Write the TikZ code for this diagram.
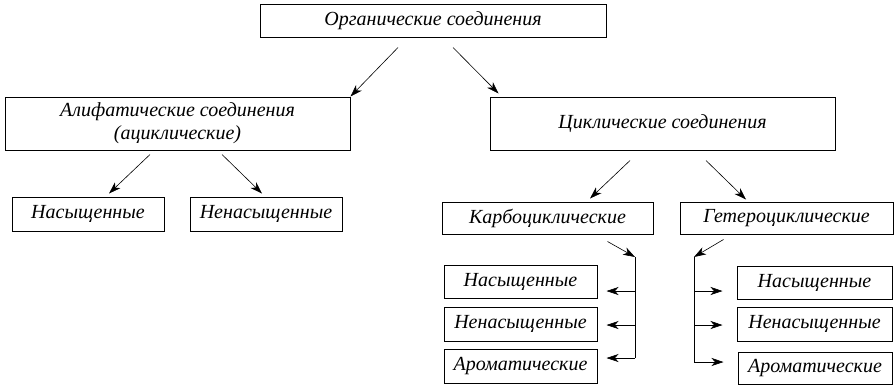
\documentclass[tikz,border=0pt]{standalone}
\usepackage{fontspec}
\setmainfont{Liberation Serif}
\usetikzlibrary{arrows.meta,calc}
\tikzset{
  box/.style={draw, line width=1pt, inner sep=0pt, align=center, font=\itshape\fontsize{20}{23}\selectfont},
  sbox/.style={box},
  arr/.style={line width=0.6pt, -{Stealth[length=12pt,width=8pt,inset=3.5pt]}},
  ln/.style={line width=0.9pt}
}
\begin{document}
\begin{tikzpicture}[x=1pt,y=-1pt]
\useasboundingbox (0,0) rectangle (896,389);
\node[box, minimum width=346pt, minimum height=33pt] (top) at (433,20.5) {Органические соединения};
\node[box, minimum width=345pt, minimum height=53pt] (ali) at (177.5,123.5) {Алифатические соединения\\(ациклические)};
\node[box, minimum width=345pt, minimum height=53pt] (cyc) at (662.5,123.5) {Циклические соединения};
\node[sbox, minimum width=152pt, minimum height=34pt] (n1) at (88,214) {Насыщенные};
\node[sbox, minimum width=152pt, minimum height=34pt] (nn1) at (266,214) {Ненасыщенные};
\node[sbox, minimum width=211pt, minimum height=32pt] (carb) at (547.5,218) {Карбоциклические};
\node[sbox, minimum width=213pt, minimum height=32pt] (het) at (786.5,218) {Гетероциклические};
\node[sbox, minimum width=153pt, minimum height=33pt] (ls1) at (520.5,281.5) {Насыщенные};
\node[sbox, minimum width=153pt, minimum height=34pt] (ls2) at (520.5,324) {Ненасыщенные};
\node[sbox, minimum width=153pt, minimum height=34pt] (ls3) at (520.5,366) {Ароматические};
\node[sbox, minimum width=155pt, minimum height=33pt] (rs1) at (814.5,282.5) {Насыщенные};
\node[sbox, minimum width=155pt, minimum height=34pt] (rs2) at (814.5,324) {Ненасыщенные};
\node[sbox, minimum width=154pt, minimum height=32pt] (rs3) at (815,368) {Ароматические};
% connector endpoints
\coordinate (t1) at ($(top.south)+(-35,10)$);
\coordinate (t2) at ($(top.south)+(20,10)$);
\coordinate (a1) at ($(ali.south)+(-27.5,4)$);
\coordinate (a2) at ($(ali.south)+(44.5,4)$);
\coordinate (c1) at ($(cyc.south)+(-32.5,10)$);
\coordinate (c2) at ($(cyc.south)+(43.5,10)$);
\coordinate (k0) at ($(carb.south east)+(-46,7)$);
\coordinate (kb) at (635,257);
\coordinate (ke) at (635,358);
\coordinate (g0) at ($(het.south west)+(44,5)$);
\coordinate (gb) at (694,257);
\coordinate (ge) at (694,362);
\draw[arr] (t1) -- (ali.north east);
\draw[arr] (t2) -- ($(cyc.north west)+(9,-3)$) coordinate (t2e);
\draw[arr] (a1) -- ($(n1.north)+(21,-3)$) coordinate (a1e);
\draw[arr] (a2) -- ($(nn1.north)+(-4,-3)$) coordinate (a2e);
\draw[arr] (c1) -- ($(carb.north)+(42.5,-3)$) coordinate (c1e);
\draw[arr] (c2) -- ($(het.north)+(-40.5,-2)$) coordinate (c2e);
\draw[arr] (k0) -- (kb);
\draw[ln] (kb) -- (ke);
\draw[arr] (ke) -- ($(ls3.east |- ke)+(9,0)$);
\draw[arr] (kb |- 0,291) -- ($(ls1.east |- 0,291)+(9,0)$);
\draw[arr] (kb |- 0,325) -- ($(ls2.east |- 0,325)+(9,0)$);
\draw[arr] (g0) -- (gb);
\draw[ln] (gb) -- (ge);
\draw[arr] (ge) -- ($(rs3.west |- ge)+(-14,0)$);
\draw[arr] (gb |- 0,291) -- ($(rs1.west |- 0,291)+(-14,0)$);
\draw[arr] (gb |- 0,325) -- ($(rs2.west |- 0,325)+(-14,0)$);
\end{tikzpicture}
\end{document}
